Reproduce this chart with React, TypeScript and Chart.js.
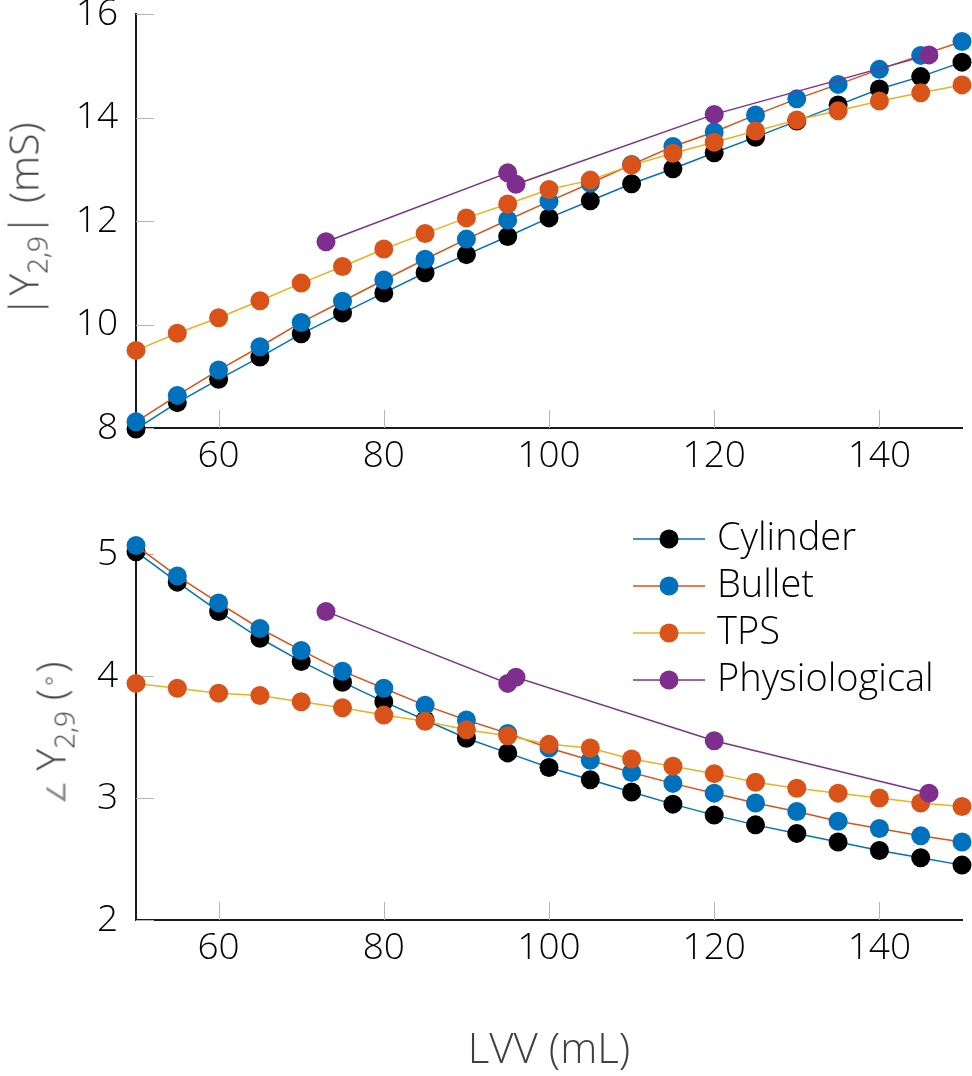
import React, { useEffect, useRef } from "react";
import { Chart, registerables } from "chart.js";

Chart.register(...registerables);

// ---------------- data ----------------
const LVV = [50, 55, 60, 65, 70, 75, 80, 85, 90, 95, 100, 105, 110, 115, 120, 125, 130, 135, 140, 145, 150];
const PHYS_LVV = [73, 95, 96, 120, 146];

const SERIES = ["Cylinder", "Bullet", "TPS", "Physiological"];

const magCylinder = [7.98, 8.49, 8.94, 9.37, 9.82, 10.22, 10.61, 11.0, 11.35, 11.7, 12.06, 12.39, 12.72, 13.01, 13.32, 13.62, 13.93, 14.24, 14.55, 14.79, 15.07];
const magBullet = [8.12, 8.63, 9.12, 9.57, 10.04, 10.45, 10.86, 11.26, 11.65, 12.02, 12.38, 12.73, 13.09, 13.44, 13.72, 14.05, 14.36, 14.64, 14.93, 15.2, 15.47];
const magTPS = [9.5, 9.83, 10.13, 10.46, 10.8, 11.12, 11.46, 11.76, 12.06, 12.33, 12.61, 12.79, 13.08, 13.31, 13.52, 13.74, 13.95, 14.13, 14.32, 14.48, 14.63];
const magPhys = [11.6, 12.93, 12.71, 14.06, 15.21];

const angCylinder = [5.02, 4.77, 4.53, 4.31, 4.12, 3.95, 3.79, 3.64, 3.49, 3.37, 3.25, 3.15, 3.05, 2.95, 2.86, 2.78, 2.71, 2.64, 2.57, 2.51, 2.45];
const angBullet = [5.07, 4.82, 4.6, 4.39, 4.21, 4.04, 3.9, 3.76, 3.64, 3.53, 3.41, 3.31, 3.21, 3.12, 3.04, 2.96, 2.89, 2.81, 2.75, 2.69, 2.64];
const angTPS = [3.94, 3.9, 3.86, 3.84, 3.79, 3.74, 3.68, 3.63, 3.56, 3.51, 3.44, 3.41, 3.32, 3.26, 3.2, 3.13, 3.08, 3.04, 3.0, 2.96, 2.93];
const angPhys = [4.53, 3.94, 3.99, 3.47, 3.04];

const X_TICKS = [60, 80, 100, 120, 140];
const MAG_TICKS = [8, 10, 12, 14, 16];
const ANG_TICKS = [2, 3, 4, 5];

// ---------------- style ----------------
const LINE_COLORS = ["#0072BD", "#D95319", "#EDB120", "#7E2F8E"];
const MARKER_COLORS = ["#000000", "#0072BD", "#D95319", "#7E2F8E"];
const FONT = "'Open Sans', 'DejaVu Sans', sans-serif";
const WEIGHT = 300;
const TICK_FONT_SIZE = 37;
const LEGEND_FONT_SIZE = 38;
const TITLE_FONT_SIZE = 42;
const TITLE_COLOR = "#404040";
const AXIS_COLOR = "#1a1a1a";
const TICK_MARK_COLOR = "#b5b5b5";

const W = 972;
const TOP_H = 470;
const BOT_TOP = 470;
const BOT_H = 606;
const Y_AXIS_W = 136;
const RIGHT_PAD = 10;

function pairs(xs: number[], ys: number[]) {
  return xs.map((x, i) => ({ x, y: ys[i] }));
}

function makeDatasets(values: number[][]) {
  return SERIES.map((label, i) => ({
    label,
    data: pairs(i === 3 ? PHYS_LVV : LVV, values[i]),
    borderColor: LINE_COLORS[i],
    backgroundColor: MARKER_COLORS[i],
    pointBackgroundColor: MARKER_COLORS[i],
    pointBorderColor: MARKER_COLORS[i],
    pointBorderWidth: 0,
    pointRadius: 9.5,
    pointHoverRadius: 9.5,
    borderWidth: 1.5,
    tension: 0,
    fill: false,
    clip: false as any,
    order: 4 - i,
  }));
}

const innerTicks = {
  id: "innerTicks",
  beforeDatasetsDraw(chart: any) {
    const { ctx, chartArea, scales } = chart;
    const len = 18;
    ctx.save();
    ctx.strokeStyle = TICK_MARK_COLOR;
    ctx.lineWidth = 1;
    scales.x.ticks.forEach((t: any) => {
      const px = Math.round(scales.x.getPixelForValue(t.value)) + 0.5;
      ctx.beginPath();
      ctx.moveTo(px, chartArea.bottom);
      ctx.lineTo(px, chartArea.bottom - len);
      ctx.stroke();
    });
    scales.y.ticks.forEach((t: any) => {
      const py = Math.round(scales.y.getPixelForValue(t.value)) + 0.5;
      ctx.beginPath();
      ctx.moveTo(chartArea.left, py);
      ctx.lineTo(chartArea.left + len, py);
      ctx.stroke();
    });
    ctx.restore();
  },
};

function legendIcon(lineColor: string, markerColor: string) {
  const c = document.createElement("canvas");
  c.width = 72;
  c.height = 22;
  const g = c.getContext("2d")!;
  g.strokeStyle = lineColor;
  g.lineWidth = 1.5;
  g.beginPath();
  g.moveTo(0, 11);
  g.lineTo(72, 11);
  g.stroke();
  g.fillStyle = markerColor;
  g.beginPath();
  g.arc(36, 11, 9.5, 0, Math.PI * 2);
  g.fill();
  return c;
}

const LEGEND_LEFT = 631;
const LEGEND_TOP = 41;
const legendPlacer = {
  id: "legendPlacer",
  afterLayout(chart: any) {
    const lg = chart.legend;
    if (!lg) return;
    lg.left = LEGEND_LEFT;
    lg.top = LEGEND_TOP;
  },
};

function baseScales(yMin: number, yMax: number, yTicks: number[], xHeight: number, xTitle: any) {
  return {
    x: {
      type: "linear",
      min: 50,
      max: 150,
      afterBuildTicks: (s: any) => {
        s.ticks = X_TICKS.map((v) => ({ value: v }));
      },
      afterFit: (s: any) => {
        s.height = xHeight;
        s.paddingLeft = 0;
        s.paddingRight = 0;
        s.paddingTop = 0;
        s.paddingBottom = 0;
      },
      grid: { display: false, drawTicks: false, drawOnChartArea: false },
      border: { display: true, color: AXIS_COLOR, width: 2 },
      ticks: {
        padding: 6,
        color: "#000",
        maxRotation: 0,
        autoSkip: false,
        font: { family: FONT, size: TICK_FONT_SIZE, weight: WEIGHT, lineHeight: 1.2 },
      },
      title: xTitle,
    },
    y: {
      type: "linear",
      min: yMin,
      max: yMax,
      afterBuildTicks: (s: any) => {
        s.ticks = yTicks.map((v) => ({ value: v }));
      },
      afterFit: (s: any) => {
        s.width = Y_AXIS_W;
        s.paddingLeft = 0;
        s.paddingRight = 0;
        s.paddingTop = 0;
        s.paddingBottom = 0;
      },
      grid: { display: false, drawTicks: false, drawOnChartArea: false },
      border: { display: true, color: AXIS_COLOR, width: 2 },
      ticks: {
        padding: 18,
        color: "#000",
        autoSkip: false,
        font: { family: FONT, size: TICK_FONT_SIZE, weight: WEIGHT, lineHeight: 1.2 },
      },
    },
  };
}

export default function App() {
  const topRef = useRef<HTMLCanvasElement>(null);
  const botRef = useRef<HTMLCanvasElement>(null);

  useEffect(() => {
    const top = new Chart(topRef.current!, {
      type: "line",
      data: { datasets: makeDatasets([magCylinder, magBullet, magTPS, magPhys]) as any },
      options: {
        responsive: false,
        maintainAspectRatio: false,
        animation: false,
        layout: { padding: { top: 14, right: RIGHT_PAD, left: 0, bottom: 0 } },
        plugins: { legend: { display: false }, tooltip: { enabled: false } },
        scales: baseScales(8, 16, MAG_TICKS, TOP_H - 428, { display: false }) as any,
      },
      plugins: [innerTicks],
    });

    const bot = new Chart(botRef.current!, {
      type: "line",
      data: { datasets: makeDatasets([angCylinder, angBullet, angTPS, angPhys]) as any },
      options: {
        responsive: false,
        maintainAspectRatio: false,
        animation: false,
        layout: { padding: { top: 78, right: RIGHT_PAD, left: 0, bottom: 0 } },
        plugins: {
          tooltip: { enabled: false },
          legend: {
            display: true,
            position: "chartArea" as any,
            align: "start",
            labels: {
              usePointStyle: true,
              pointStyleWidth: 58,
              padding: 9,
              color: "#000",
              font: { family: FONT, size: LEGEND_FONT_SIZE, weight: WEIGHT },
              generateLabels: (chart: any) =>
                SERIES.map((text, i) => ({
                  text,
                  datasetIndex: i,
                  pointStyle: legendIcon(LINE_COLORS[i], MARKER_COLORS[i]),
                  fillStyle: MARKER_COLORS[i],
                  strokeStyle: LINE_COLORS[i],
                  lineWidth: 0,
                  hidden: false,
                  fontColor: "#000",
                })),
            },
          },
        },
        scales: baseScales(2, 5.05, ANG_TICKS, BOT_H - 450, {
          display: true,
          text: "LVV (mL)",
          color: TITLE_COLOR,
          padding: { top: 0, bottom: 0 },
          font: { family: FONT, size: TITLE_FONT_SIZE, weight: WEIGHT, lineHeight: 1.2 },
        }) as any,
      },
      plugins: [innerTicks, legendPlacer],
    });

    return () => {
      top.destroy();
      bot.destroy();
    };
  }, []);

  const yTitle: React.CSSProperties = {
    position: "absolute",
    transform: "translate(-50%, -50%) rotate(-90deg)",
    whiteSpace: "nowrap",
    fontFamily: FONT,
    fontWeight: WEIGHT,
    fontSize: 41,
    color: TITLE_COLOR,
    lineHeight: 1,
  };
  const sub: React.CSSProperties = { fontSize: 28, verticalAlign: -9, lineHeight: 0 };
  const angle: React.CSSProperties = { fontFamily: "'DejaVu Sans', sans-serif", fontWeight: 200, fontSize: 26, color: "#8a8a8a" };

  return (
    <div style={{ position: "absolute", left: 0, top: 0, width: W, height: 1076, background: "#fff", overflow: "hidden" }}>
      <canvas ref={topRef} width={W} height={TOP_H} style={{ position: "absolute", left: 0, top: 0, display: "block" }} />
      <canvas ref={botRef} width={W} height={BOT_H} style={{ position: "absolute", left: 0, top: BOT_TOP, display: "block" }} />
      <div style={{ ...yTitle, left: 23, top: 220 }}>
        |Y<sub style={sub}>2,9</sub>| (mS)
      </div>
      <div style={{ ...yTitle, left: 50, top: 733 }}>
        <span style={angle}>∠</span> Y<sub style={sub}>2,9</sub> (<sup style={{ fontSize: 26, verticalAlign: 8, lineHeight: 0 }}>∘</sup>)
      </div>
    </div>
  );
}
